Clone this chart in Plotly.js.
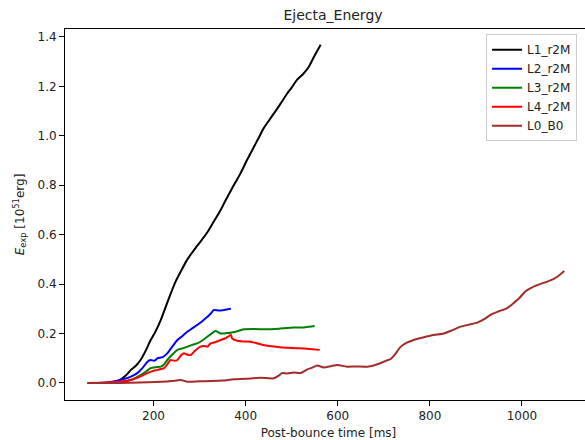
<!DOCTYPE html>
<html>
<head>
<meta charset="utf-8">
<script src="https://cdn.plot.ly/plotly-3.0.1.min.js"></script>
<style>
html,body{margin:0;padding:0;overflow:hidden;background:#fff;}
#chart{width:600px;height:440px;}
</style>
</head>
<body>
<div id="chart"></div>
<script>
const seriesNames = ["L1_r2M", "L2_r2M", "L3_r2M", "L4_r2M", "L0_B0"];
const seriesColors = ["#000000", "#0000ff", "#008000", "#ff0000", "#a52a2a"];

const tL1 = [60,90,110,125,140,151,162,172,183,194,205,216,227,238,248,259,272,281,292,300,317,330,346,357,367,378,389,404,418,428,439,452,465,476,490,500,512,525,537,548,556,563];
const eL1 = [0,0,0.003,0.01,0.03,0.053,0.07,0.093,0.13,0.174,0.21,0.255,0.31,0.364,0.41,0.45,0.495,0.52,0.548,0.567,0.61,0.65,0.70,0.74,0.775,0.812,0.848,0.905,0.955,0.99,1.03,1.065,1.10,1.13,1.17,1.195,1.227,1.25,1.278,1.318,1.345,1.368];

const tL2 = [57,80,100,120,136,150,165,176,187,194,202,209,220,230,240,252,263,274,285,295,306,317,324,331,342,355,368];
const eL2 = [0,0,0.002,0.008,0.016,0.025,0.04,0.06,0.086,0.093,0.09,0.10,0.105,0.12,0.145,0.174,0.19,0.208,0.222,0.235,0.25,0.268,0.28,0.295,0.293,0.296,0.30];

const tL3 = [60,100,136,150,160,172,183,194,205,216,223,230,241,252,263,274,285,295,306,317,326,335,346,356,367,380,396,420,447,475,505,530,550];
const eL3 = [0,0,0.004,0.012,0.02,0.032,0.045,0.06,0.064,0.066,0.075,0.093,0.115,0.134,0.14,0.147,0.155,0.16,0.172,0.187,0.2,0.21,0.20,0.201,0.203,0.208,0.217,0.218,0.217,0.22,0.224,0.226,0.231];

const tL4 = [57,100,130,151,170,187,198,209,223,230,237,245,252,259,266,273,281,290,302,310,317,324,335,346,355,364,368,371,382,395,411,430,447,470,490,510,526,545,561];
const eL4 = [0,0.002,0.006,0.012,0.025,0.04,0.048,0.053,0.06,0.075,0.093,0.09,0.093,0.11,0.12,0.115,0.113,0.13,0.147,0.15,0.147,0.16,0.166,0.174,0.18,0.19,0.195,0.18,0.171,0.168,0.167,0.158,0.151,0.146,0.143,0.141,0.140,0.137,0.134];

const tL0 = [57,100,150,190,216,240,259,274,300,324,350,374,400,432,461,472,479,490,505,519,534,545,555,570,585,599,620,640,664,680,692,705,714,724,736,750,765,785,808,830,848,867,885,903,918,931,950,967,981,995,1007,1022,1039,1055,1068,1079,1092];
const eL0 = [0,0,0.001,0.003,0.005,0.008,0.012,0.005,0.007,0.008,0.01,0.015,0.017,0.021,0.019,0.03,0.04,0.038,0.042,0.04,0.055,0.062,0.071,0.063,0.068,0.073,0.066,0.067,0.066,0.072,0.08,0.09,0.096,0.115,0.145,0.163,0.174,0.184,0.194,0.20,0.213,0.228,0.236,0.244,0.258,0.275,0.29,0.302,0.322,0.345,0.37,0.387,0.40,0.41,0.42,0.433,0.453];

const xTickVals = [200, 400, 600, 800, 1000];
const yTickVals = [0.0, 0.2, 0.4, 0.6, 0.8, 1.0, 1.2, 1.4];

const xs = [tL1, tL2, tL3, tL4, tL0];
const ys = [eL1, eL2, eL3, eL4, eL0];

const traces = seriesNames.map((n, i) => ({
  x: xs[i], y: ys[i], name: n, type: 'scatter', mode: 'lines',
  line: {color: seriesColors[i], width: 2, shape: 'spline', smoothing: 0.6}
}));

const font = {family: 'DejaVu Sans, sans-serif', size: 12, color: '#222'};

const layout = {
  width: 600, height: 440,
  margin: {l: 65, r: 8, t: 29, b: 40},
  paper_bgcolor: '#fff', plot_bgcolor: '#fff',
  font: font,
  title: {text: 'Ejecta_Energy', x: 0.555, xanchor: 'center', y: 0.965, yanchor: 'middle', font: {family: 'DejaVu Sans, sans-serif', size: 14, color: '#222'}},
  xaxis: {
    range: [8, 1152], tickvals: xTickVals, ticktext: xTickVals.map(String),
    showgrid: false, zeroline: false, showline: true, linecolor: '#000', linewidth: 1,
    mirror: true, ticks: 'outside', ticklen: 5, tickcolor: '#000',
    title: {text: 'Post-bounce time [ms]', font: font, standoff: 6}
  },
  yaxis: {
    range: [-0.0688, 1.432], tickvals: yTickVals, ticktext: yTickVals.map(v => v.toFixed(1)),
    showgrid: false, zeroline: false, showline: true, linecolor: '#000', linewidth: 1,
    mirror: true, ticks: 'outside', ticklen: 5, tickcolor: '#000',
    title: {text: '<i>E</i><sub>exp</sub> [10<sup>51</sup>erg]', font: font, standoff: 10}
  },
  showlegend: true,
  legend: {
    x: 0.799, y: 0.986, xanchor: 'left', yanchor: 'top',
    bordercolor: '#cccccc', borderwidth: 1, bgcolor: 'rgba(255,255,255,0.8)',
    font: font, tracegroupgap: 0
  }
};

Plotly.newPlot('chart', traces, layout, {staticPlot: true, displayModeBar: false});
</script>
</body>
</html>
